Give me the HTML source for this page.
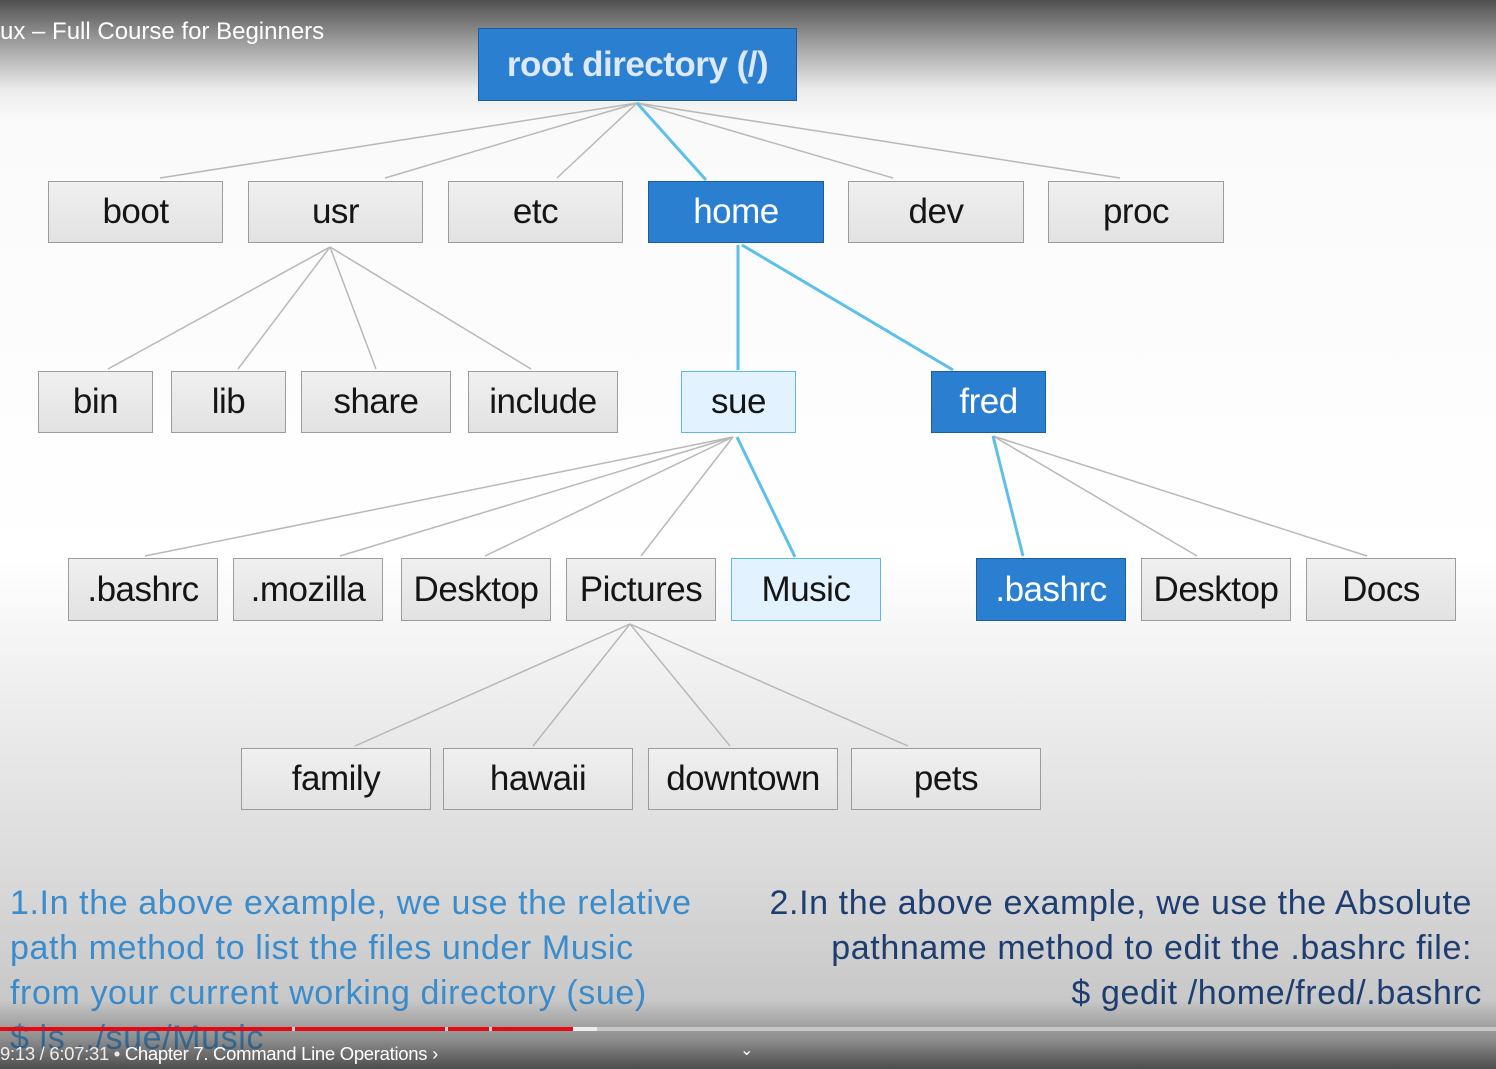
<!DOCTYPE html>
<html><head><style>
body{margin:0;width:1496px;height:1069px;overflow:hidden;position:relative;font-family:"Liberation Sans",sans-serif;
background:linear-gradient(to bottom,#505050 0px,#9a9a9a 40px,#ececec 90px,#fafafa 120px,#ffffff 560px,#f2f2f2 660px,#dcdcdc 860px,#c8c8c8 1000px,#bdbdbd 1069px);}
.b{position:absolute;box-sizing:border-box;border:1.5px solid #9c9c9c;background:linear-gradient(#f0f0f0,#e2e2e2);color:#151515;font-size:35px;display:flex;align-items:center;justify-content:center;letter-spacing:-0.5px}
.bl{background:#2b7fd0;border-color:#1b5e9e;color:#fff}
.lb{background:#e2f3ff;border-color:#5cb8e6;color:#151515}
svg{position:absolute;left:0;top:0}
.t{position:absolute;font-size:34px;letter-spacing:0.6px;white-space:nowrap}
</style></head><body>
<svg width="1496" height="1069">
<g stroke="#b8b8b8" stroke-width="1.5" fill="none">
<line x1="637" y1="103" x2="160" y2="178"/><line x1="637" y1="103" x2="385" y2="178"/><line x1="637" y1="103" x2="557" y2="178"/><line x1="637" y1="103" x2="893" y2="178"/><line x1="637" y1="103" x2="1120" y2="178"/>
<line x1="330" y1="247" x2="108" y2="369"/><line x1="330" y1="247" x2="238" y2="369"/><line x1="330" y1="247" x2="376" y2="369"/><line x1="330" y1="247" x2="531" y2="369"/>
<line x1="733" y1="437" x2="145" y2="556"/><line x1="733" y1="437" x2="340" y2="556"/><line x1="733" y1="437" x2="485" y2="556"/><line x1="733" y1="437" x2="641" y2="556"/>
<line x1="993" y1="436" x2="1197" y2="556"/><line x1="993" y1="436" x2="1367" y2="556"/>
<line x1="630" y1="624" x2="355" y2="746"/><line x1="630" y1="624" x2="533" y2="746"/><line x1="630" y1="624" x2="730" y2="746"/><line x1="630" y1="624" x2="908" y2="746"/>
</g>
<g stroke="#5cc0ea" stroke-width="3" fill="none">
<line x1="637" y1="103" x2="706" y2="180"/><line x1="738" y1="245" x2="738" y2="370"/><line x1="742" y1="245" x2="953" y2="370"/>
<line x1="737" y1="437" x2="795" y2="557"/><line x1="993" y1="436" x2="1023" y2="556"/>
</g>
</svg>
<div class="t" style="left:0;top:18px;font-size:24px;color:#fff;letter-spacing:0">ux – Full Course for Beginners</div>
<div class="b bl" style="left:478px;top:28px;width:319px;height:73px;font-weight:bold;font-size:35px;color:#dde8f8">root directory (/)</div>
<div class="b" style="left:48px;top:181px;width:175px;height:62px">boot</div>
<div class="b" style="left:248px;top:181px;width:175px;height:62px">usr</div>
<div class="b" style="left:448px;top:181px;width:175px;height:62px">etc</div>
<div class="b bl" style="left:648px;top:181px;width:176px;height:62px">home</div>
<div class="b" style="left:848px;top:181px;width:176px;height:62px">dev</div>
<div class="b" style="left:1048px;top:181px;width:176px;height:62px">proc</div>
<div class="b" style="left:38px;top:371px;width:115px;height:62px">bin</div>
<div class="b" style="left:171px;top:371px;width:115px;height:62px">lib</div>
<div class="b" style="left:301px;top:371px;width:150px;height:62px">share</div>
<div class="b" style="left:468px;top:371px;width:150px;height:62px">include</div>
<div class="b lb" style="left:681px;top:371px;width:115px;height:62px">sue</div>
<div class="b bl" style="left:931px;top:371px;width:115px;height:62px">fred</div>
<div class="b" style="left:68px;top:558px;width:150px;height:63px">.bashrc</div>
<div class="b" style="left:233px;top:558px;width:150px;height:63px">.mozilla</div>
<div class="b" style="left:401px;top:558px;width:150px;height:63px">Desktop</div>
<div class="b" style="left:566px;top:558px;width:150px;height:63px">Pictures</div>
<div class="b lb" style="left:731px;top:558px;width:150px;height:63px">Music</div>
<div class="b bl" style="left:976px;top:558px;width:150px;height:63px">.bashrc</div>
<div class="b" style="left:1141px;top:558px;width:150px;height:63px">Desktop</div>
<div class="b" style="left:1306px;top:558px;width:150px;height:63px">Docs</div>
<div class="b" style="left:241px;top:748px;width:190px;height:62px">family</div>
<div class="b" style="left:443px;top:748px;width:190px;height:62px">hawaii</div>
<div class="b" style="left:648px;top:748px;width:190px;height:62px">downtown</div>
<div class="b" style="left:851px;top:748px;width:190px;height:62px">pets</div>
<div class="t" style="left:10px;top:884px;color:#3a8ccd">1.In the above example, we use the relative</div>
<div class="t" style="left:10px;top:929px;color:#3a8ccd">path method to list the files under Music</div>
<div class="t" style="left:10px;top:974px;color:#3a8ccd">from your current working directory (sue)</div>
<div class="t" style="left:10px;top:1019px;color:#3a8ccd">$ ls ../sue/Music</div>
<div class="t" style="right:24px;top:884px;color:#1e3e72">2.In the above example, we use the Absolute</div>
<div class="t" style="right:24px;top:929px;color:#1e3e72">pathname method to edit the .bashrc file:</div>
<div class="t" style="right:14px;top:974px;color:#1e3e72">$ gedit /home/fred/.bashrc</div>
<div style="position:absolute;left:0;top:1000px;width:1496px;height:69px;background:linear-gradient(rgba(40,40,40,0),rgba(40,40,40,0.35) 40px,rgba(40,40,40,0.75))"></div>
<div style="position:absolute;left:0;top:1027px;width:1496px;height:4px;background:rgba(210,210,210,0.8)"></div>
<div style="position:absolute;left:573px;top:1027px;width:24px;height:4px;background:#eee"></div>
<div style="position:absolute;left:0;top:1027px;width:573px;height:4px;background:#e50914"></div>
<div style="position:absolute;left:292px;top:1027px;width:3px;height:4px;background:#ccc"></div>
<div style="position:absolute;left:445px;top:1027px;width:3px;height:4px;background:#ccc"></div>
<div style="position:absolute;left:489px;top:1027px;width:3px;height:4px;background:#ccc"></div>
<div class="t" style="left:0;top:1043px;font-size:18.5px;color:#eee;letter-spacing:-0.3px">9:13 / 6:07:31 • <span style="color:#fff">Chapter 7. Command Line Operations ›</span></div>
<div class="t" style="left:740px;top:1040px;font-size:16px;color:#fff;letter-spacing:0">⌄</div>
</body></html>
